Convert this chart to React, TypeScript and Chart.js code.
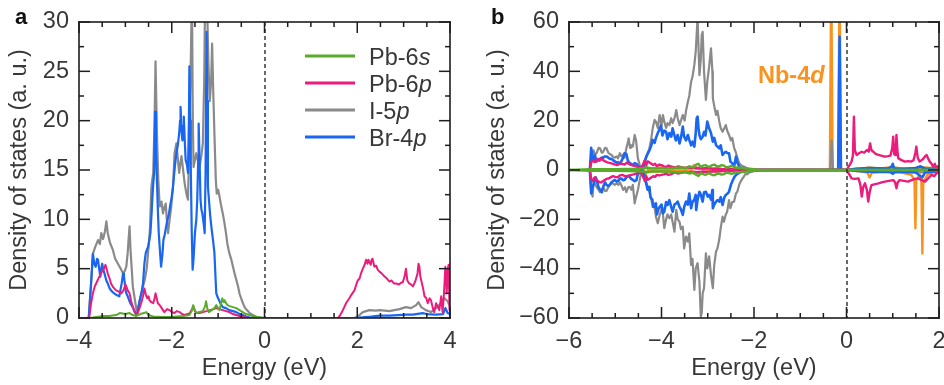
import React, { useEffect, useRef } from 'react';
import { Chart, registerables } from 'chart.js';

Chart.register(...registerables);

const FAMILY = '"Liberation Sans", Arial, Helvetica, sans-serif';
const FS = 23.5;
const TEXT = '#383838';
const AXIS = '#1e1e1e';
const GREEN = '#5aab2b';
const PINK = '#ec1c7c';
const GRAY = '#8a8a8a';
const BLUE = '#1866f2';
const ORANGE = '#f7931e';

// ---------- axis ranges / ticks ----------
const xRangeA = [-4, 4];
const yRangeA = [0, 30];
const xRangeB = [-6, 2];
const yRangeB = [-60, 60];

// ---------- legend ----------
const legendBase = ['Pb-6', 'Pb-6', 'I-5', 'Br-4'];
const legendOrbital = ['s', 'p', 'p', 'p'];
const legendColors = [GREEN, PINK, GRAY, BLUE];

// ---------- panel a data: [energy (eV), DOS] ----------
const aI5p: number[][] = [
  [-3.85,0],[-3.79,0],[-3.74,3.5],[-3.70,6.5],[-3.65,7.2],[-3.59,7.9],[-3.55,7.5],[-3.52,8.6],[-3.48,8.0],[-3.44,8.8],
  [-3.41,9.8],[-3.38,8.6],[-3.33,7.6],[-3.27,6.9],[-3.22,6.0],[-3.16,5.5],[-3.10,5.0],[-3.05,4.5],[-3.01,4.8],[-2.98,5.2],
  [-2.95,6.6],[-2.93,8.0],[-2.91,9.3],[-2.89,7.0],[-2.87,5.5],[-2.84,3.2],[-2.80,2.0],[-2.76,0.8],[-2.72,1.2],[-2.69,1.8],
  [-2.64,2.8],[-2.58,3.9],[-2.54,5.0],[-2.51,6.6],[-2.47,9.0],[-2.44,13.3],[-2.40,14.7],[-2.37,20],[-2.35,26],[-2.32,18.7],
  [-2.29,14],[-2.26,11.3],[-2.22,11.8],[-2.19,10.6],[-2.16,11.2],[-2.13,11.6],[-2.10,9.5],[-2.08,8.6],[-2.04,10.2],[-2.01,11.3],
  [-1.97,13.5],[-1.94,16.7],[-1.90,17.7],[-1.87,16.2],[-1.84,14.7],[-1.81,15.8],[-1.79,16.4],[-1.75,14.8],[-1.72,13.6],[-1.68,12.5],
  [-1.65,12],[-1.62,18],[-1.59,25.8],[-1.565,33],[-1.545,20],[-1.53,15.3],[-1.50,16],[-1.47,16.7],[-1.43,15.8],[-1.40,15.3],
  [-1.36,16.5],[-1.33,17.7],[-1.30,24],[-1.28,33],[-1.26,33],[-1.24,32],[-1.21,26],[-1.18,22],[-1.15,24],[-1.13,27.8],
  [-1.10,22],[-1.08,18.7],[-1.05,14],[-1.03,12.6],[-1.00,13],[-0.97,12.3],[-0.94,11.5],[-0.90,10.6],[-0.87,9.8],[-0.83,8.6],
  [-0.80,7.5],[-0.76,6.6],[-0.72,6.0],[-0.68,5.2],[-0.65,4.6],[-0.61,3.9],[-0.57,3.2],[-0.54,2.5],[-0.49,1.8],[-0.43,1.1],
  [-0.38,0.8],[-0.32,0.5],[-0.25,0.3],[-0.17,0.1],[-0.08,0.05],[0,0],
  [1.95,0],[2.0,0.1],[2.12,0.6],[2.26,0.8],[2.4,0.75],[2.48,0.8],[2.6,0.75],[2.69,0.7],[2.8,0.8],[2.91,0.9],
  [3.05,1.1],[3.16,1.0],[3.27,1.3],[3.32,1.6],[3.38,1.1],[3.48,0.8],[3.59,0.6],[3.70,1.0],[3.81,1.5],[3.88,2.0],[3.95,1.7],[4.0,1.2],
];

const aBr4p: number[][] = [
  [-3.85,0],[-3.79,0],[-3.74,3.5],[-3.70,6.5],[-3.67,5.5],[-3.64,5.2],[-3.61,6.0],[-3.59,5.9],[-3.56,4.8],[-3.54,4.2],
  [-3.52,5.0],[-3.50,5.5],[-3.47,4.8],[-3.45,4.5],[-3.41,3.8],[-3.38,3.5],[-3.34,3.0],[-3.31,2.8],[-3.27,2.6],[-3.24,2.5],
  [-3.18,2.3],[-3.13,2.2],[-3.10,3.0],[-3.08,3.5],[-3.05,4.5],[-3.03,4.2],[-3.00,3.0],[-2.98,2.5],[-2.95,2.2],[-2.92,1.8],
  [-2.88,1.4],[-2.84,1.1],[-2.80,0.6],[-2.76,0.3],[-2.72,1.0],[-2.69,1.8],[-2.65,2.6],[-2.62,3.5],[-2.59,5.5],[-2.56,6.6],
  [-2.53,7.0],[-2.51,7.2],[-2.48,8.0],[-2.46,8.6],[-2.43,11],[-2.42,12],[-2.40,13.5],[-2.38,14.7],[-2.36,20.9],[-2.34,17],
  [-2.32,14],[-2.30,11],[-2.28,8.6],[-2.25,6.5],[-2.23,5.2],[-2.20,6.5],[-2.18,7.9],[-2.15,8.5],[-2.12,9.3],[-2.09,10.0],
  [-2.06,10.6],[-2.03,11.5],[-2.01,12],[-1.98,13],[-1.96,14],[-1.93,15.5],[-1.90,16.7],[-1.87,17.5],[-1.84,18.7],[-1.82,20],
  [-1.81,21.4],[-1.79,19],[-1.77,18],[-1.75,19.5],[-1.74,20.4],[-1.72,18],[-1.70,16],[-1.67,15.5],[-1.65,14.7],[-1.63,20],
  [-1.62,25.5],[-1.60,20],[-1.59,15.3],[-1.57,9],[-1.55,4.9],[-1.53,6],[-1.50,8.6],[-1.47,10],[-1.45,12],[-1.43,16],
  [-1.42,19.7],[-1.40,16],[-1.38,12],[-1.36,11],[-1.34,10.6],[-1.31,9.5],[-1.29,8.6],[-1.27,15],[-1.25,29],[-1.235,22],
  [-1.22,13.3],[-1.19,11.5],[-1.17,10.3],[-1.14,9],[-1.11,7.9],[-1.08,6.6],[-1.06,4.5],[-1.04,2.5],[-1.01,2.1],[-0.98,1.8],
  [-0.94,1.4],[-0.90,1.1],[-0.83,1.0],[-0.76,0.8],[-0.68,0.7],[-0.61,0.6],[-0.54,0.4],[-0.47,0.3],[-0.40,0.15],[-0.32,0.05],[0,0],
  [1.9,0],[2.05,0.05],[2.3,0.15],[2.48,0.25],[2.7,0.25],[3.05,0.35],[3.2,0.35],[3.41,0.5],[3.5,0.4],[3.7,0.35],[3.85,0.4],[3.9,1.0],[3.95,0.5],[4.0,0.4],
];

const aPb6p: number[][] = [
  [-3.85,0],[-3.78,0],[-3.74,1.5],[-3.70,2.5],[-3.66,3.2],[-3.63,3.5],[-3.60,3.8],[-3.56,4.2],[-3.52,4.6],[-3.48,4.9],
  [-3.45,5.1],[-3.43,5.4],[-3.40,4.9],[-3.38,4.5],[-3.34,4.0],[-3.31,3.5],[-3.26,3.1],[-3.20,2.8],[-3.15,2.7],[-3.09,2.5],
  [-3.04,2.8],[-3.00,3.4],[-2.98,3.2],[-2.95,2.8],[-2.91,2.5],[-2.88,1.8],[-2.84,1.1],[-2.79,0.6],[-2.75,0.3],[-2.71,0.8],
  [-2.66,1.5],[-2.62,2.2],[-2.59,3.0],[-2.56,2.4],[-2.53,2.0],[-2.50,2.2],[-2.48,1.8],[-2.44,1.6],[-2.40,1.5],[-2.37,2.0],
  [-2.35,2.5],[-2.32,1.9],[-2.30,1.5],[-2.26,1.3],[-2.23,1.1],[-2.19,0.8],[-2.16,0.6],[-2.10,0.9],[-2.05,0.8],[-2.00,0.6],
  [-1.94,0.5],[-1.89,0.7],[-1.83,0.6],[-1.78,0.4],[-1.72,0.3],[-1.66,0.4],[-1.61,0.5],[-1.56,0.9],[-1.53,1.1],[-1.50,0.7],
  [-1.47,0.5],[-1.40,0.5],[-1.33,0.6],[-1.25,0.7],[-1.18,0.8],[-1.10,0.9],[-1.04,1.0],[-0.97,0.9],[-0.90,0.8],[-0.83,0.7],
  [-0.76,0.6],[-0.68,0.4],[-0.61,0.3],[-0.54,0.2],[-0.47,0.1],[-0.35,0.03],[0,0],
  [1.58,0],[1.62,0.2],[1.67,0.6],[1.72,1.1],[1.77,1.6],[1.83,2.0],[1.88,2.4],[1.94,2.8],[1.98,3.4],[2.01,3.8],
  [2.05,4.0],[2.08,4.5],[2.12,5.0],[2.16,5.4],[2.19,5.9],[2.22,5.5],[2.24,5.9],[2.26,5.7],[2.29,5.4],[2.31,5.9],
  [2.33,6.0],[2.35,5.6],[2.37,5.2],[2.41,5.3],[2.44,4.9],[2.48,4.7],[2.53,4.5],[2.59,4.2],[2.64,4.0],[2.69,3.7],
  [2.74,3.8],[2.79,3.5],[2.84,3.5],[2.90,3.4],[2.95,3.6],[2.98,3.6],[3.02,4.2],[3.05,5.0],[3.08,3.8],[3.12,3.5],
  [3.16,3.4],[3.20,3.2],[3.25,3.7],[3.30,4.5],[3.32,5.5],[3.34,5.2],[3.36,4.2],[3.38,3.8],[3.42,3.0],[3.45,2.2],
  [3.49,2.0],[3.52,1.5],[3.56,2.0],[3.59,1.8],[3.63,1.0],[3.66,0.6],[3.70,1.5],[3.73,1.2],[3.77,0.8],[3.81,2.2],
  [3.84,0.6],[3.87,2.5],[3.90,5.2],[3.93,2.5],[3.95,4.9],[3.97,5.4],[3.99,0.8],[4.0,2.5],
];

const aPb6s: number[][] = [
  [-3.85,0],[-3.7,0.05],[-3.55,0.15],[-3.48,0.2],[-3.35,0.2],[-3.2,0.3],[-3.12,0.5],[-3.0,0.4],[-2.91,0.5],[-2.84,0.3],
  [-2.77,0.2],[-2.68,0.4],[-2.6,0.5],[-2.55,0.6],[-2.5,0.3],[-2.4,0.15],[-2.2,0.1],[-2.04,0.1],[-1.9,0.15],[-1.75,0.2],
  [-1.62,0.3],[-1.57,0.7],[-1.54,1.3],[-1.51,0.9],[-1.47,0.5],[-1.40,0.6],[-1.33,0.7],[-1.28,1.2],[-1.26,1.7],[-1.23,0.9],
  [-1.20,0.6],[-1.14,0.8],[-1.08,1.0],[-1.04,1.3],[-1.00,1.0],[-0.97,0.8],[-0.94,1.4],[-0.91,2.0],[-0.88,1.6],[-0.86,1.8],
  [-0.83,1.5],[-0.80,1.3],[-0.75,1.2],[-0.68,1.1],[-0.61,1.0],[-0.54,0.8],[-0.47,0.6],[-0.40,0.4],[-0.32,0.3],[-0.22,0.15],
  [-0.11,0.05],[0,0],[4,0],
];

// ---------- panel b data (spin up / spin down) ----------
const bI5pUp: number[][] = [
  [-5.6,0],[-5.55,0],[-5.51,6],[-5.47,8],[-5.44,6.1],[-5.40,7],[-5.36,9],[-5.33,8.8],[-5.29,7],[-5.26,7.4],[-5.22,9],
  [-5.19,8.8],[-5.15,7],[-5.12,6.5],[-5.08,6.1],[-5.05,5.4],[-5.01,5],[-4.97,5.5],[-4.94,4.7],[-4.90,6.8],[-4.87,5.5],
  [-4.84,6.1],[-4.80,5],[-4.76,8.8],[-4.73,11],[-4.71,12.8],[-4.68,9],[-4.66,10.1],[-4.62,9.5],[-4.58,14.2],[-4.55,12],
  [-4.51,4.7],[-4.47,2],[-4.44,0.7],[-4.40,1.5],[-4.37,3.4],[-4.33,5],[-4.30,6.8],[-4.26,8.8],[-4.22,13],[-4.19,16.9],
  [-4.15,20.3],[-4.12,19.6],[-4.08,17],[-4.04,22.3],[-4.00,18],[-3.97,22.3],[-3.94,19.6],[-3.90,17],[-3.87,19],[-3.83,18.2],
  [-3.79,21],[-3.76,19],[-3.72,20.9],[-3.68,24.3],[-3.65,21],[-3.61,18.2],[-3.58,20],[-3.54,22.3],[-3.50,20],[-3.47,24],
  [-3.43,27.7],[-3.40,30],[-3.36,35.8],[-3.33,37.8],[-3.29,42.6],[-3.26,48],[-3.24,54.7],[-3.22,62],[-3.20,50],[-3.18,38.5],
  [-3.15,45],[-3.13,54.7],[-3.11,56],[-3.08,39.9],[-3.04,28.4],[-3.01,35.8],[-2.97,41.9],[-2.93,49.3],[-2.90,40],[-2.89,29.1],
  [-2.85,25],[-2.82,22.3],[-2.79,24],[-2.75,19.6],[-2.72,17],[-2.68,15.5],[-2.64,17],[-2.61,18.2],[-2.58,16],[-2.54,14.2],
  [-2.50,12],[-2.47,13],[-2.43,9],[-2.39,7],[-2.36,5],[-2.32,2.7],[-2.27,1.8],[-2.22,1.4],[-2.16,0.8],[-2.11,0.4],
  [-2.0,0.1],[-1.9,0],[-0.35,0],[-0.32,12],[-0.29,0],[0,0],[0.2,0.5],[0.5,0.6],[0.8,0.5],[1.0,1.0],[1.05,0.6],
  [1.3,0.6],[1.5,0.8],[1.6,1.2],[1.7,0.6],[2.0,0.8],
];

const bI5pDown: number[][] = [
  [-5.6,0],[-5.55,0],[-5.52,-8],[-5.49,-10.8],[-5.47,-5],[-5.43,-6],[-5.40,-7],[-5.36,-8],[-5.33,-9],[-5.29,-8],[-5.26,-7],
  [-5.22,-8.5],[-5.19,-8.5],[-5.15,-7],[-5.12,-6],[-5.08,-5],[-5.05,-5.5],[-5.01,-6],[-4.97,-5.4],[-4.93,-6],[-4.90,-5],
  [-4.86,-6.5],[-4.83,-8.1],[-4.79,-7],[-4.76,-9],[-4.72,-7],[-4.69,-6.8],[-4.65,-8],[-4.62,-6],[-4.58,-13.5],[-4.55,-11],
  [-4.51,-8.1],[-4.47,-4],[-4.44,-1],[-4.40,-0.7],[-4.37,-3],[-4.33,-5],[-4.29,-7],[-4.26,-9],[-4.22,-12],[-4.19,-15],
  [-4.15,-14.9],[-4.12,-19],[-4.08,-21.6],[-4.04,-18.2],[-4.00,-16],[-3.97,-17.6],[-3.94,-23.6],[-3.90,-20],[-3.87,-18],[-3.83,-19.6],
  [-3.79,-18],[-3.76,-21],[-3.72,-25],[-3.68,-16.2],[-3.65,-20],[-3.61,-21],[-3.58,-24],[-3.54,-23],[-3.51,-31.8],[-3.47,-27],
  [-3.43,-29],[-3.40,-25.7],[-3.36,-38.5],[-3.33,-36],[-3.29,-48.6],[-3.26,-39.9],[-3.22,-37.8],[-3.18,-45.3],[-3.15,-59.5],[-3.13,-58],
  [-3.11,-50],[-3.08,-47.9],[-3.04,-33.8],[-3.01,-39.9],[-2.97,-35],[-2.93,-42.6],[-2.89,-47.9],[-2.86,-38.5],[-2.82,-33],[-2.79,-31.8],
  [-2.75,-28],[-2.72,-23.6],[-2.68,-18.9],[-2.65,-21],[-2.61,-18],[-2.58,-16.9],[-2.54,-12.2],[-2.51,-15.5],[-2.47,-13],[-2.43,-12.8],
  [-2.39,-9.5],[-2.36,-8.8],[-2.32,-6],[-2.29,-4.7],[-2.25,-3.5],[-2.22,-2.7],[-2.18,-1.4],[-2.15,-1.8],[-2.10,-1.0],[-2.04,-0.7],
  [-1.94,-0.1],[-1.85,0],[0,0],[0.3,-0.4],[0.7,-0.6],[1.0,-0.8],[1.4,-0.6],[1.6,-1.0],[2.0,-0.6],
];

const bBr4pUp: number[][] = [
  [-5.6,0],[-5.55,0],[-5.52,9],[-5.50,6],[-5.48,4],[-5.46,5],[-5.44,6],[-5.42,4.5],[-5.40,3.5],[-5.37,4],[-5.33,4.5],
  [-5.29,5],[-5.26,5],[-5.22,5.5],[-5.19,5.5],[-5.15,5],[-5.12,4.5],[-5.08,4.5],[-5.05,4],[-5.01,3.5],[-4.97,3],
  [-4.94,3.2],[-4.90,2.5],[-4.87,3.5],[-4.83,5],[-4.80,6.8],[-4.76,6.5],[-4.73,4],[-4.70,3],[-4.66,2.5],[-4.62,2],
  [-4.58,2.8],[-4.54,2.5],[-4.50,1.5],[-4.47,1],[-4.42,0.5],[-4.39,1.5],[-4.37,3],[-4.33,5.4],[-4.30,6.5],[-4.26,8],
  [-4.22,10],[-4.19,12.2],[-4.15,11],[-4.12,13],[-4.08,15],[-4.05,16.2],[-4.01,18],[-3.98,14],[-3.94,16],[-3.90,15.5],
  [-3.87,12.5],[-3.83,15],[-3.79,13.5],[-3.76,16.9],[-3.72,14],[-3.69,12],[-3.65,14.2],[-3.61,10.8],[-3.58,13],[-3.54,17.6],
  [-3.51,13.5],[-3.47,12],[-3.43,14.2],[-3.40,12.2],[-3.36,10],[-3.33,11.5],[-3.29,9.5],[-3.26,15],[-3.24,20.9],[-3.22,21.6],
  [-3.20,17],[-3.18,14.2],[-3.15,12.5],[-3.11,13.5],[-3.08,15.5],[-3.05,14],[-3.01,19.6],[-2.97,16.9],[-2.93,15],[-2.89,11.5],
  [-2.86,13],[-2.82,10.1],[-2.79,9.5],[-2.75,8.8],[-2.72,10],[-2.68,6.1],[-2.64,7],[-2.61,7.4],[-2.57,6.8],[-2.54,6.8],
  [-2.51,3.4],[-2.47,2.7],[-2.43,1.4],[-2.39,5.4],[-2.36,3],[-2.32,1.4],[-2.28,0.7],[-2.20,0.3],[-2.10,0],[-0.18,0],
  [-0.15,54],[-0.12,0],[0,0],[0.2,0.5],[0.5,0.8],[0.9,0.6],[0.98,1.5],[1.0,2.5],[1.03,0.6],[1.3,0.5],[1.5,0.8],
  [1.6,1.5],[1.7,0.5],[2.0,0.5],
];

const bBr4pDown: number[][] = [
  [-5.6,0],[-5.55,0],[-5.52,-9.5],[-5.49,-7],[-5.47,-6],[-5.44,-4],[-5.42,-3],[-5.39,-5],[-5.36,-7],[-5.33,-8],[-5.29,-9],
  [-5.26,-6.8],[-5.22,-5],[-5.19,-6],[-5.15,-6.5],[-5.12,-6.1],[-5.08,-5],[-5.05,-4.5],[-5.01,-4],[-4.97,-4.7],[-4.94,-4.5],
  [-4.90,-3.5],[-4.87,-3.5],[-4.83,-4.1],[-4.80,-4],[-4.76,-3],[-4.73,-2.5],[-4.69,-2.7],[-4.66,-3.5],[-4.62,-4],[-4.58,-4.5],
  [-4.54,-4.1],[-4.52,-2],[-4.48,-1],[-4.44,-0.3],[-4.40,-0.5],[-4.37,-2],[-4.35,-4],[-4.30,-8],[-4.26,-6.8],[-4.24,-11],
  [-4.20,-12],[-4.17,-15],[-4.12,-13.5],[-4.10,-18],[-4.07,-16],[-4.04,-15],[-4.00,-14],[-3.97,-17.6],[-3.94,-16.9],[-3.90,-13],
  [-3.87,-14.2],[-3.83,-12.2],[-3.79,-15],[-3.76,-16.9],[-3.72,-14],[-3.68,-13.5],[-3.65,-12.8],[-3.61,-15],[-3.58,-16],[-3.54,-18.2],
  [-3.51,-15],[-3.47,-12.8],[-3.43,-14],[-3.40,-9.5],[-3.36,-15.5],[-3.33,-13],[-3.29,-12],[-3.26,-10.1],[-3.25,-16.2],[-3.22,-12],
  [-3.18,-8.8],[-3.15,-10],[-3.11,-12.8],[-3.08,-9],[-3.04,-8.8],[-3.00,-10.8],[-2.97,-10.1],[-2.93,-12],[-2.90,-8.1],[-2.89,-15.5],
  [-2.86,-14],[-2.82,-12.8],[-2.79,-12.2],[-2.75,-12.8],[-2.72,-11],[-2.68,-14.2],[-2.64,-11],[-2.61,-10.1],[-2.57,-9.5],[-2.54,-8.8],
  [-2.50,-6],[-2.47,-4.7],[-2.43,-3],[-2.39,-2],[-2.34,-1.4],[-2.29,-0.7],[-2.20,-0.2],[-2.10,0],[0,0],[0.3,-0.5],
  [0.6,-0.8],[0.95,-0.8],[1.0,-1.5],[1.05,-0.6],[1.2,-0.8],[1.5,-1],[1.6,-2.5],[1.64,-3],[1.7,-1],[2.0,-0.5],
];

const bPb6pUp: number[][] = [
  [-5.6,0],[-5.55,0],[-5.52,3],[-5.48,4],[-5.45,3.2],[-5.41,3.5],[-5.38,4.5],[-5.34,3.8],[-5.30,4.5],[-5.26,4],[-5.22,3.5],
  [-5.18,3.2],[-5.15,3],[-5.10,2.8],[-5.05,2.5],[-5.00,2.2],[-4.95,2],[-4.90,2.6],[-4.85,2.5],[-4.80,2.2],[-4.75,3],
  [-4.70,2.4],[-4.65,2],[-4.60,1.8],[-4.55,1.5],[-4.50,1],[-4.46,0.5],[-4.42,1.5],[-4.38,3],[-4.36,4],[-4.33,2],
  [-4.30,3.5],[-4.26,3],[-4.22,2.5],[-4.18,2],[-4.14,2.5],[-4.10,1.5],[-4.05,2.2],[-4.00,2],[-3.95,1.5],[-3.90,1.2],
  [-3.85,1.8],[-3.80,1.5],[-3.75,1.2],[-3.70,1],[-3.65,1.4],[-3.60,1.3],[-3.55,1.0],[-3.50,0.8],[-3.45,1.1],[-3.40,1],
  [-3.35,0.8],[-3.30,0.7],[-3.25,0.9],[-3.20,0.8],[-3.10,0.6],[-3.00,0.8],[-2.90,0.5],[-2.80,0.6],[-2.70,0.4],[-2.50,0.3],
  [-2.30,0.1],[-2.10,0],[0,0],[0.05,1.5],[0.11,3.4],[0.14,6],[0.16,21.6],[0.18,8],[0.22,6.1],[0.27,6.8],
  [0.33,7.4],[0.38,7.0],[0.44,8.1],[0.48,7.5],[0.51,10.8],[0.54,8],[0.58,7.4],[0.63,6.5],[0.69,6.1],[0.75,5.8],
  [0.83,5.4],[0.9,5.6],[0.95,5.8],[0.99,9],[1.01,13.5],[1.03,6.5],[1.05,6.1],[1.07,10],[1.08,14.2],[1.10,8],
  [1.12,4.7],[1.19,4.0],[1.26,3.4],[1.33,3.6],[1.40,3.4],[1.45,4.0],[1.49,7],[1.51,9.5],[1.54,5],[1.58,3.4],
  [1.64,4.2],[1.70,5.5],[1.73,6.1],[1.77,4.5],[1.80,3.4],[1.84,2.5],[1.87,1.4],[1.91,2.5],[1.94,0.7],[1.97,1.5],[2.0,0.8],
];

const bPb6pDown: number[][] = [
  [-5.6,0],[-5.55,0],[-5.52,-3.5],[-5.48,-4.5],[-5.45,-3],[-5.41,-4],[-5.38,-4.5],[-5.34,-5],[-5.30,-5],[-5.26,-4.5],[-5.22,-4],
  [-5.18,-3.5],[-5.15,-3.5],[-5.10,-3],[-5.05,-2.5],[-5.00,-2.8],[-4.95,-3],[-4.90,-2.2],[-4.85,-2],[-4.80,-2.4],[-4.75,-2.5],
  [-4.70,-2.2],[-4.65,-2],[-4.60,-1.8],[-4.55,-1.5],[-4.50,-1],[-4.46,-0.5],[-4.42,-2],[-4.38,-3.5],[-4.36,-4.5],[-4.33,-2.5],
  [-4.30,-4],[-4.26,-3.5],[-4.22,-3],[-4.18,-2.5],[-4.14,-2.8],[-4.10,-2],[-4.05,-2.2],[-4.00,-2],[-3.95,-1.8],[-3.90,-1.5],
  [-3.85,-2],[-3.80,-1.8],[-3.75,-1.3],[-3.70,-1],[-3.65,-1.4],[-3.60,-1.2],[-3.55,-1.0],[-3.50,-0.8],[-3.45,-1.1],[-3.40,-1],
  [-3.35,-0.8],[-3.30,-0.7],[-3.25,-0.9],[-3.20,-0.8],[-3.10,-0.6],[-3.00,-0.8],[-2.90,-0.5],[-2.80,-0.6],[-2.70,-0.4],[-2.50,-0.3],
  [-2.30,-0.1],[-2.10,0],[0,0],[0.05,-1.5],[0.11,-3.4],[0.18,-3.6],[0.26,-3.4],[0.30,-6],[0.33,-10.8],[0.36,-7],
  [0.40,-5.4],[0.44,-8],[0.47,-12.8],[0.50,-9],[0.54,-6.1],[0.6,-5.8],[0.69,-5.4],[0.76,-5],[0.83,-4.7],[0.92,-4.4],
  [1.01,-4.1],[1.05,-5],[1.08,-7.4],[1.11,-5],[1.15,-4.1],[1.24,-4.4],[1.33,-4.7],[1.42,-4],[1.48,-3.6],[1.55,-3.4],
  [1.62,-4],[1.70,-4.7],[1.76,-3.5],[1.84,-2],[1.90,-2.5],[1.94,-1.4],[2.0,-1],
];

const bPb6sUp: number[][] = [
  [-6,0],[-5.5,0.3],[-5.0,0.3],[-4.5,0.5],[-4.3,0.9],[-4.2,0.6],[-3.9,0.6],[-3.6,1.0],[-3.45,0.8],[-3.4,1.5],[-3.3,1.0],
  [-3.25,2.2],[-3.2,2.5],[-3.15,1.2],[-3.1,1.8],[-3.05,2.0],[-2.98,1.2],[-2.95,1.5],[-2.9,2.0],[-2.85,2.2],[-2.8,1.4],
  [-2.75,1.5],[-2.7,2.0],[-2.65,1.8],[-2.6,1.0],[-2.55,1.2],[-2.5,1.6],[-2.45,1.5],[-2.4,0.9],[-2.35,1.0],[-2.3,0.9],
  [-2.25,0.8],[-2.2,0.7],[-2.15,0.6],[-2.1,0.5],[-2.05,0.4],[-1.95,0.2],[-1.8,0.05],[-1.6,0],[2,0],
];

const bPb6sDown: number[][] = [
  [-6,0],[-5.5,-0.3],[-5.0,-0.3],[-4.5,-0.5],[-4.3,-0.8],[-4.2,-0.6],[-3.9,-0.6],[-3.6,-1.0],[-3.45,-0.8],[-3.4,-1.4],[-3.3,-1.0],
  [-3.25,-2.0],[-3.2,-2.4],[-3.15,-1.2],[-3.1,-1.7],[-3.05,-2.0],[-2.98,-1.2],[-2.95,-1.6],[-2.9,-2.0],[-2.85,-2.1],[-2.8,-1.4],
  [-2.75,-1.5],[-2.7,-1.9],[-2.65,-1.7],[-2.6,-1.0],[-2.55,-1.2],[-2.5,-1.5],[-2.45,-1.4],[-2.4,-0.9],[-2.35,-1.0],[-2.3,-0.9],
  [-2.25,-0.8],[-2.2,-0.7],[-2.15,-0.6],[-2.1,-0.5],[-2.05,-0.4],[-1.95,-0.2],[-1.8,-0.05],[-1.6,0],[2,0],
];

const bNb4dUp: number[][] = [
  [-5.55,0],[-4.5,0.3],[-4.38,0.5],[-4.35,2.5],[-4.3,0.5],[-4.0,1],[-3.8,0.5],[-3.35,0.6],[-3.3,2],[-3.25,0.5],
  [-3.0,0.5],[-2.5,0.2],[-2.0,0],[-0.36,0],[-0.33,80],[-0.30,0],[-0.18,0],[-0.15,80],[-0.12,0],[0,0],
  [0.3,0.5],[0.5,1],[0.7,0.5],[1.0,1.2],[1.2,0.5],[1.5,0.8],[1.7,1],[2,0.5],
];

const bNb4dDown: number[][] = [
  [-5.55,0],[-4.38,-0.4],[-4.35,-2],[-4.3,-0.5],[-3.35,-0.4],[-3.3,-1.5],[-3.0,-0.5],[-2,0],[0,0],[0.3,-0.5],
  [0.45,-1],[0.5,-3],[0.55,-1],[0.8,-0.5],[1.0,-1],[1.2,-1],[1.4,-2],[1.47,-4],[1.49,-23.6],[1.51,-4],
  [1.58,-2],[1.62,-5],[1.64,-33.8],[1.66,-5],[1.75,-2],[1.85,-1],[2.0,-0.5],
];

// ---------- helpers ----------
const fmt = (v: number) => (v < 0 ? '\u2212' + Math.abs(v) : String(v));
const toPts = (arr: number[][]) => arr.map(([x, y]) => ({ x, y }));
const ds = (arr: number[][], color: string, width: number) => ({
  data: toPts(arr),
  borderColor: color,
  backgroundColor: color,
  borderWidth: width,
  pointRadius: 0,
  tension: 0,
  fill: false,
  borderJoinStyle: 'round' as const,
});

const near = (v: number, m: number) => Math.abs(v / m - Math.round(v / m)) < 1e-6;

function tickValues(min: number, max: number, step: number) {
  const out: number[] = [];
  const n = Math.round((max - min) / step);
  for (let i = 0; i <= n; i++) out.push(min + i * step);
  return out;
}

type Spec = {
  xMin: number; xMax: number; xMinor: number; xMajor: number;
  yMin: number; yMax: number; yMinor: number; yMajor: number;
  letter: string; letterX: number; legend: boolean;
  note: boolean; noteX: number; noteY: number;
};

function makeDecor(s: Spec) {
  return {
    id: 'decor',
    afterDraw(chart: any) {
      const ctx = chart.ctx as CanvasRenderingContext2D;
      const area = chart.chartArea;
      const left = Math.round(area.left);
      const right = Math.round(area.right);
      const top = Math.round(area.top);
      const bottom = Math.round(area.bottom);
      const xs = chart.scales.x;
      const ys = chart.scales.y;
      ctx.save();
      // dashed Fermi level
      const x0 = Math.round(xs.getPixelForValue(0));
      ctx.fillStyle = '#2a2a2a';
      for (let y = top; y < bottom; y += 7) {
        ctx.fillRect(x0 - 0.7, y, 1.4, Math.min(4, bottom - y));
      }
      // frame
      const T = 1.6;
      ctx.fillStyle = AXIS;
      ctx.fillRect(left - T / 2, top - T / 2, right - left + T, T);
      ctx.fillRect(left - T / 2, bottom - T / 2, right - left + T, T);
      ctx.fillRect(left - T / 2, top - T / 2, T, bottom - top + T);
      ctx.fillRect(right - T / 2, top - T / 2, T, bottom - top + T);
      // inward ticks on every side
      const W = 1.5;
      for (const v of tickValues(s.xMin, s.xMax, s.xMinor)) {
        const p = xs.getPixelForValue(v);
        const len = near(v, s.xMajor) ? 11 : 5;
        ctx.fillRect(p - W / 2, bottom - len, W, len);
        ctx.fillRect(p - W / 2, top, W, len);
      }
      for (const v of tickValues(s.yMin, s.yMax, s.yMinor)) {
        const p = ys.getPixelForValue(v);
        const len = near(v, s.yMajor) ? 11 : 5;
        ctx.fillRect(left, p - W / 2, len, W);
        ctx.fillRect(right - len, p - W / 2, len, W);
      }
      // panel letter
      ctx.textBaseline = 'alphabetic';
      ctx.textAlign = 'left';
      ctx.fillStyle = '#111';
      ctx.font = `bold 22px ${FAMILY}`;
      ctx.fillText(s.letter, s.letterX, 24);
      if (s.legend) {
        for (let i = 0; i < legendBase.length; i++) {
          const y = 56 + i * 27;
          ctx.fillStyle = legendColors[i];
          ctx.fillRect(305, y - 1.5, 50, 3);
          ctx.fillStyle = TEXT;
          ctx.font = `${FS}px ${FAMILY}`;
          ctx.fillText(legendBase[i], 369, y + 8.5);
          const w = ctx.measureText(legendBase[i]).width;
          ctx.font = `italic ${FS}px ${FAMILY}`;
          ctx.fillText(legendOrbital[i], 369 + w, y + 8.5);
        }
      }
      if (s.note) {
        ctx.fillStyle = ORANGE;
        ctx.font = `bold ${FS}px ${FAMILY}`;
        ctx.fillText('Nb-4', s.noteX, s.noteY);
        const w = ctx.measureText('Nb-4').width;
        ctx.font = `italic bold ${FS}px ${FAMILY}`;
        ctx.fillText('d', s.noteX + w, s.noteY);
      }
      ctx.restore();
    },
  };
}

const font = { family: FAMILY, size: FS };

function makeConfig(p: any) {
  return {
    type: 'line',
    data: { datasets: p.datasets },
    plugins: [makeDecor(p.spec)],
    options: {
      animation: false,
      responsive: false,
      maintainAspectRatio: false,
      events: [],
      layout: { padding: { left: 0, top: 22, right: p.padRight, bottom: 0 } },
      plugins: {
        legend: { display: false },
        tooltip: { enabled: false },
      },
      scales: {
        x: {
          type: 'linear',
          min: p.xRange[0],
          max: p.xRange[1],
          grid: { display: false, drawTicks: false },
          border: { display: false },
          ticks: { stepSize: 2, color: TEXT, font, padding: 9.5, callback: (v: number) => fmt(v), maxRotation: 0, autoSkip: false },
          title: { display: true, text: 'Energy (eV)', color: TEXT, font, padding: { top: 0, bottom: 2.5 } },
          afterFit: (s: any) => { s.height = 67; s.paddingLeft = 0; s.paddingRight = 0; },
        },
        y: {
          type: 'linear',
          min: p.yRange[0],
          max: p.yRange[1],
          grid: { display: false, drawTicks: false },
          border: { display: false },
          ticks: { stepSize: p.yStep, color: TEXT, font, padding: 10, callback: (v: number) => fmt(v), autoSkip: false },
          title: { display: true, text: 'Density of states (a. u.)', color: TEXT, font, padding: { top: p.yTitlePad, bottom: 0 } },
          afterFit: (s: any) => { s.width = p.yWidth; s.paddingTop = 0; s.paddingBottom = 0; },
        },
      },
    },
  };
}

function Panel({ left, width, build }: { left: number; width: number; build: () => any }) {
  const ref = useRef<HTMLCanvasElement>(null);
  useEffect(() => {
    const chart = new Chart(ref.current as HTMLCanvasElement, build());
    return () => chart.destroy();
  }, []);
  return (
    <canvas
      ref={ref}
      width={width}
      height={385}
      style={{ position: 'absolute', left, top: 0, width, height: 385, display: 'block' }}
    />
  );
}

const buildA = () =>
  makeConfig({
    datasets: [ds(aPb6s, GREEN, 2), ds(aPb6p, PINK, 2), ds(aBr4p, BLUE, 2.2), ds(aI5p, GRAY, 2.2)],
    xRange: xRangeA,
    yRange: yRangeA,
    yStep: 5,
    yWidth: 79,
    yTitlePad: 5,
    padRight: 20,
    spec: {
      xMin: xRangeA[0], xMax: xRangeA[1], xMinor: 0.5, xMajor: 2,
      yMin: yRangeA[0], yMax: yRangeA[1], yMinor: 2.5, yMajor: 5,
      letter: 'a', letterX: 15, legend: true, note: false, noteX: 0, noteY: 0,
    },
  });

const buildB = () =>
  makeConfig({
    datasets: [
      ds(bPb6sUp, GREEN, 2.4), ds(bPb6sDown, GREEN, 2.4),
      ds(bPb6pUp, PINK, 2.4), ds(bPb6pDown, PINK, 2.4),
      ds(bBr4pUp, BLUE, 2.6), ds(bBr4pDown, BLUE, 2.6),
      ds(bI5pUp, GRAY, 2.2), ds(bI5pDown, GRAY, 2.2),
      ds(bNb4dUp, ORANGE, 2.4), ds(bNb4dDown, ORANGE, 2.4),
    ],
    xRange: xRangeB,
    yRange: yRangeB,
    yStep: 20,
    yWidth: 99,
    yTitlePad: 13,
    padRight: 5,
    spec: {
      xMin: xRangeB[0], xMax: xRangeB[1], xMinor: 0.5, xMajor: 2,
      yMin: yRangeB[0], yMax: yRangeB[1], yMinor: 10, yMajor: 20,
      letter: 'b', letterX: 21, legend: false, note: true, noteX: 288, noteY: 83,
    },
  });

export default function App() {
  return (
    <div style={{ position: 'fixed', left: 0, top: 0, width: 944, height: 385, overflow: 'hidden', background: '#fff' }}>
      <Panel left={0} width={470} build={buildA} />
      <Panel left={470} width={474} build={buildB} />
    </div>
  );
}
